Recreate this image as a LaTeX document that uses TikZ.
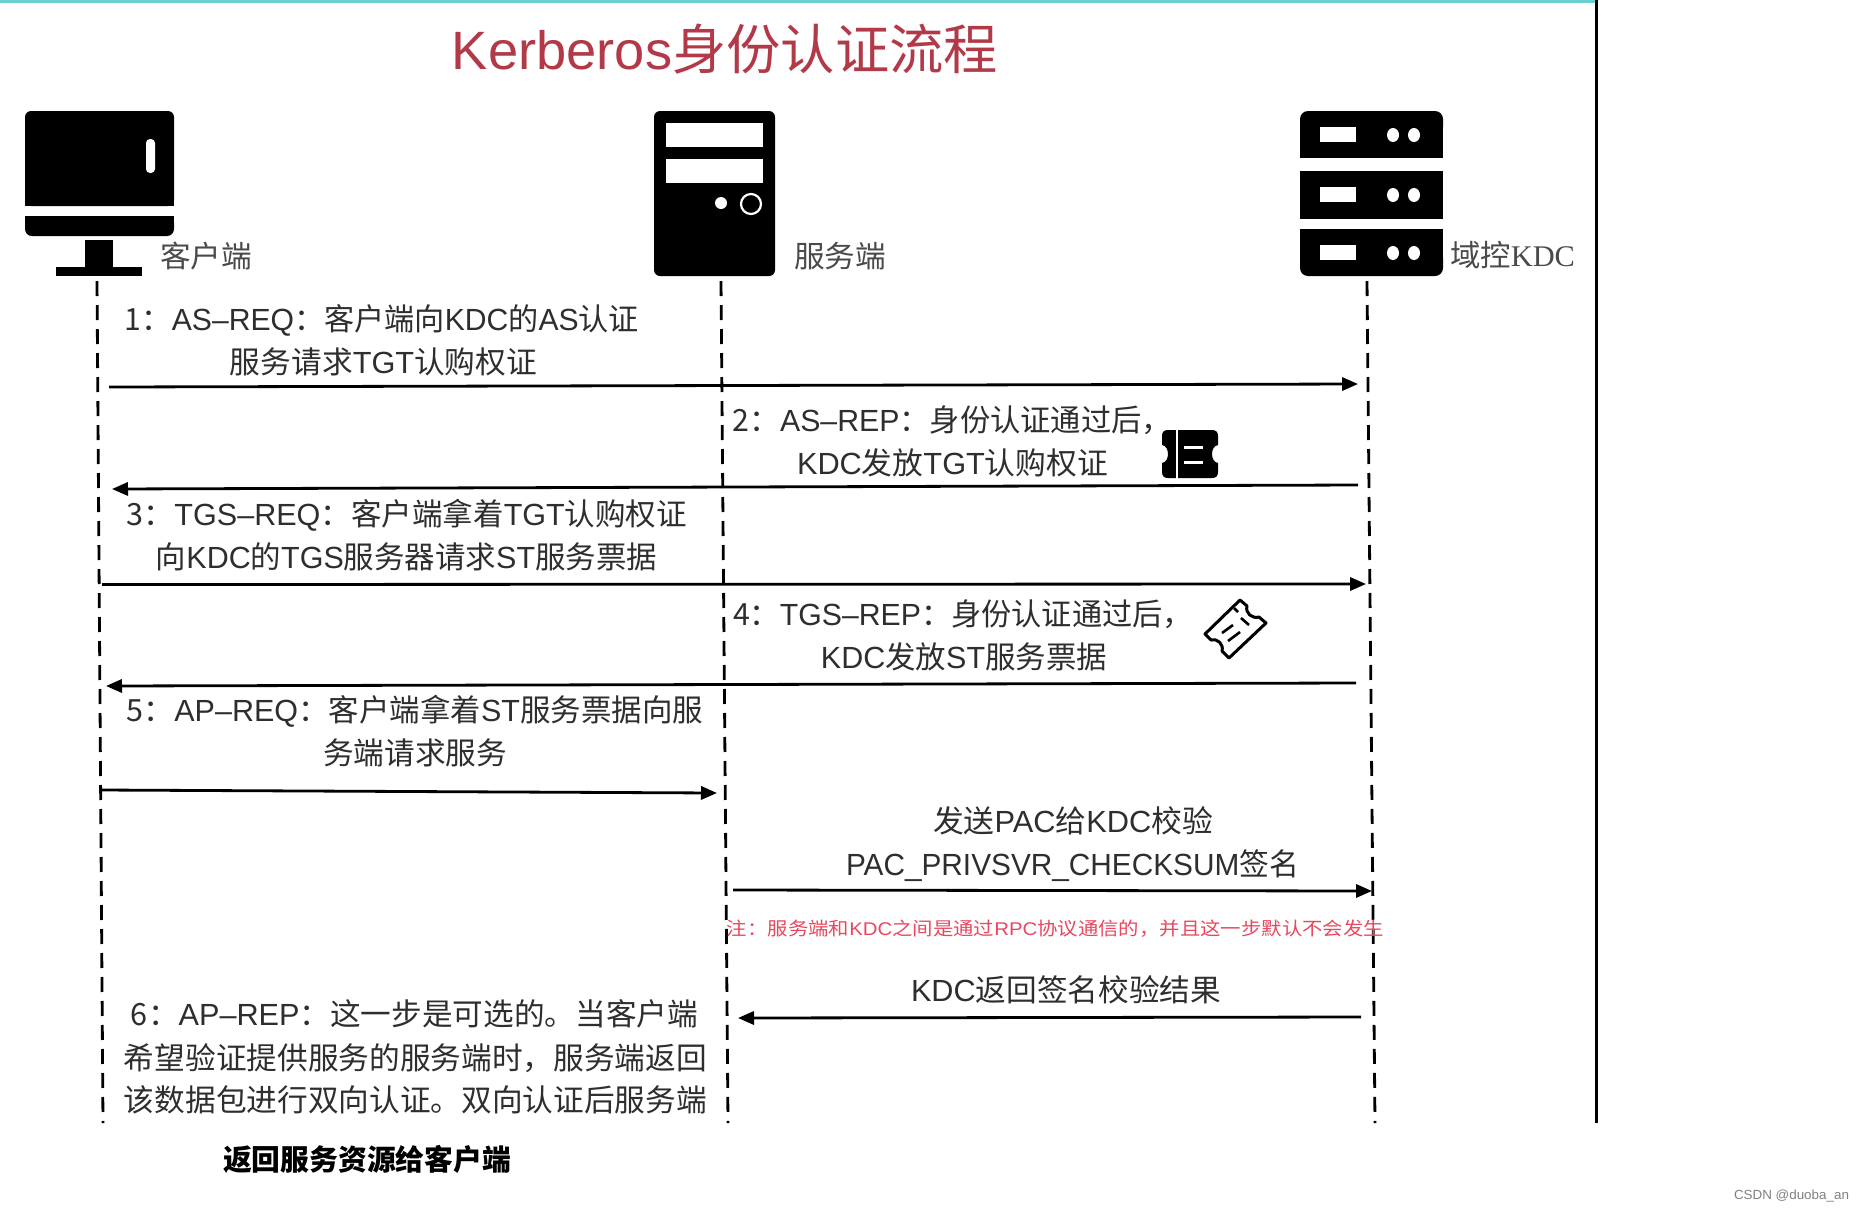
\documentclass[tikz,border=0pt]{standalone}
\usepackage{fontspec}
\usepackage{graphicx}
\usetikzlibrary{arrows.meta}
\setmainfont{Noto Sans CJK SC}
\newfontfamily\latf{Liberation Sans}
\newfontfamily\serf{Liberation Serif}
\newcommand{\Lt}[1]{{\latf #1}}
\definecolor{bodyc}{HTML}{2E2E2E}
\definecolor{teal1}{HTML}{6CCFCF}
\definecolor{titlec}{HTML}{B23A48}
\definecolor{notec}{HTML}{E8475E}
\definecolor{labc}{HTML}{4A4A4A}
\tikzset{
  lifeline/.style={line width=1.4pt,black,dash pattern=on 7.5pt off 4.5pt},
  msg/.style={line width=1.4pt,black,-{Triangle[length=8pt,width=6.6pt]}},
  txt/.style={anchor=base,inner sep=0pt,outer sep=0pt,text=bodyc,font=\fontsize{15.3}{18}\selectfont},
  notetxt/.style={txt,text=notec,font=\fontsize{9.2}{11}\selectfont},
  labtxt/.style={txt,text=labc,font=\fontsize{15}{18}\selectfont},
  titletxt/.style={txt,text=titlec,font=\fontsize{27}{32}\selectfont},
  boldtxt/.style={txt,text=black,font=\fontsize{14.5}{18}\bfseries\selectfont},
  csdntxt/.style={txt,text=gray,font=\fontsize{6.6}{8}\latf\selectfont},
}
% name, style, x0, x1, baseline y offset from centre y, text
\newcommand{\lbl}[6][txt]{\node[#1] (#2) at ({(#3+#4)/2},{#5+11.5}) {\resizebox{\dimexpr(#4pt-#3pt)/2\relax}{\height}{#6}};}
\begin{document}
\begin{tikzpicture}[x=0.5pt,y=-0.5pt]
\useasboundingbox (0,0) rectangle (1863,1211);
\fill[white] (0,0) rectangle (1863,1211);
% frame
\fill[teal1] (0,0) rectangle (1597,2.5);
\coordinate (ft) at (1596,0); \coordinate (fb) at (1596,1123);
\draw[line width=1.5pt,black] (ft) -- (fb);
% title
\lbl[titletxt]{title}{452}{998}{58}{\Lt{Kerberos}身份认证流程}
% client icon
\fill[black,rounded corners=3pt] (25,111) -- (174,111) -- (174,206) -- (25,206) -- cycle;
\fill[black] (25,150) rectangle (174,206);
\fill[black,rounded corners=3.5pt] (25,216) -- (174,216) -- (174,236) -- (25,236) -- cycle;
\fill[black] (25,216) rectangle (174,226);
\fill[black] (85,240) rectangle (113,268);
\fill[black] (56,267) rectangle (142,276);
\fill[white,rounded corners=2pt] (146,139) rectangle (155,173);
% server tower icon
\fill[black,rounded corners=3pt] (654,111) rectangle (775,276);
\fill[white] (666,123) rectangle (763,147);
\fill[white] (666,159) rectangle (763,183);
\fill[white] (721,203) circle [radius=6];
\draw[white,line width=1.1pt] (751,204) circle [radius=10];
% KDC icon
\fill[black,rounded corners=4pt] (1300,111) -- (1443,111) -- (1443,135) -- (1300,135) -- cycle;
\fill[black] (1300,125) rectangle (1443,158);
\fill[black] (1300,171) rectangle (1443,219);
\fill[black,rounded corners=4pt] (1300,250) -- (1443,250) -- (1443,276) -- (1300,276) -- cycle;
\fill[black] (1300,229) rectangle (1443,265);
\foreach \yy in {135,195,253}{
  \fill[white] (1320,\yy-8) rectangle (1356,\yy+7);
  \fill[white] (1393,\yy) ellipse [x radius=6,y radius=7];
  \fill[white] (1414,\yy) ellipse [x radius=6,y radius=7];
}
% labels
\lbl[labtxt]{lc}{160}{252}{256}{客户端}
\lbl[labtxt]{ls}{794}{886}{256}{服务端}
\lbl[labtxt]{lk}{1450}{1575}{255}{域控{\serf KDC}}
% lifelines
\coordinate (ct) at (97,281); \coordinate (cb) at (103,1123);
\coordinate (st) at (721,281); \coordinate (sb) at (728,1123);
\coordinate (kt) at (1367,281); \coordinate (kb) at (1375,1123);
\draw[lifeline] (ct) -- (cb);
\draw[lifeline] (st) -- (sb);
\draw[lifeline] (kt) -- (kb);
% arrows
\coordinate (a1s) at (109,387); \coordinate (a1e) at (1358,384);
\coordinate (a2s) at (1358,485); \coordinate (a2e) at (112,489);
\coordinate (a3s) at (102,584.5); \coordinate (a3e) at (1366,584);
\coordinate (a4s) at (1356,683); \coordinate (a4e) at (106,686);
\coordinate (a5s) at (101,790); \coordinate (a5e) at (717,793);
\coordinate (a6s) at (733,890); \coordinate (a6e) at (1372,891);
\coordinate (a7s) at (1361,1017); \coordinate (a7e) at (738,1018);
\draw[msg] (a1s) -- (a1e);
\draw[msg] (a2s) -- (a2e);
\draw[msg] (a3s) -- (a3e);
\draw[msg] (a4s) -- (a4e);
\draw[msg] (a5s) -- (a5e);
\draw[msg] (a6s) -- (a6e);
\draw[msg] (a7s) -- (a7e);
% message text
\lbl{t1a}{125}{639}{319}{1：\Lt{AS–REQ}：客户端向\Lt{KDC}的\Lt{AS}认证}
\lbl{t1b}{230}{537}{362}{服务请求\Lt{TGT}认购权证}
\lbl{t2a}{733}{1172}{420}{2：\Lt{AS–REP}：身份认证通过后，}
\lbl{t2b}{797}{1108}{463}{\Lt{KDC}发放\Lt{TGT}认购权证}
\lbl{t3a}{127}{687}{514}{3：\Lt{TGS–REQ}：客户端拿着\Lt{TGT}认购权证}
\lbl{t3b}{156}{657}{557}{向\Lt{KDC}的\Lt{TGS}服务器请求\Lt{ST}服务票据}
\lbl{t4a}{733}{1193}{614}{4：\Lt{TGS–REP}：身份认证通过后，}
\lbl{t4b}{821}{1107}{657}{\Lt{KDC}发放\Lt{ST}服务票据}
\lbl{t5a}{127}{703}{710}{5：\Lt{AP–REQ}：客户端拿着\Lt{ST}服务票据向服}
\lbl{t5b}{323}{507}{753}{务端请求服务}
\lbl{t6a}{933}{1213}{821}{发送\Lt{PAC}给\Lt{KDC}校验}
\lbl{t6b}{846}{1299}{864}{\Lt{PAC\_PRIVSVR\_CHECKSUM}签名}
\lbl[notetxt]{note}{727}{1384}{924}{注：服务端和\Lt{KDC}之间是通过\Lt{RPC}协议通信的，并且这一步默认不会发生}
\lbl{t7}{911}{1221}{990}{\Lt{KDC}返回签名校验结果}
\lbl{t8a}{131}{698}{1014}{6：\Lt{AP–REP}：这一步是可选的。当客户端}
\lbl{t8b}{124}{707}{1058}{希望验证提供服务的服务端时，服务端返回}
\lbl{t8c}{124}{707}{1100}{该数据包进行双向认证。双向认证后服务端}
\lbl[boldtxt]{t8d}{223}{511}{1159}{返回服务资源给客户端}
\lbl[csdntxt]{csdn}{1734}{1849}{1188}{CSDN @duoba\_an}
% filled ticket
\fill[black]
  (1162,436) .. controls (1162,432) and (1164,430) .. (1168,430)
  -- (1212,430) .. controls (1216,430) and (1218,432) .. (1218,436)
  -- (1218,445) .. controls (1210,446) and (1210,462) .. (1218,463)
  -- (1218,472) .. controls (1218,476) and (1216,478) .. (1212,478)
  -- (1168,478) .. controls (1164,478) and (1162,476) .. (1162,472)
  -- (1162,463) .. controls (1170,462) and (1170,446) .. (1162,445) -- cycle;
\draw[white,line width=0.7pt] (1177,428) -- (1177,480);
\draw[white,line width=1.5pt] (1184,447) -- (1203,447);
\draw[white,line width=1.5pt] (1184,462) -- (1203,462);
% outlined ticket
\draw[black,line width=1.5pt,line join=round]
  (1205,634) -- (1240,600) -- (1247,606)
  .. controls (1245,613) and (1252,619) .. (1259,617)
  -- (1266,623) -- (1229,658) -- (1222,651)
  .. controls (1224,644) and (1217,638) .. (1211,640) -- cycle;
\draw[black,line width=1.3pt] (1234,608) -- (1238,612);
\draw[black,line width=1.3pt] (1241,618) -- (1249,625);
\draw[black,line width=1.3pt] (1222,633) -- (1233,625);
\draw[black,line width=1.3pt] (1228,641) -- (1240,632);
\end{tikzpicture}
\end{document}
